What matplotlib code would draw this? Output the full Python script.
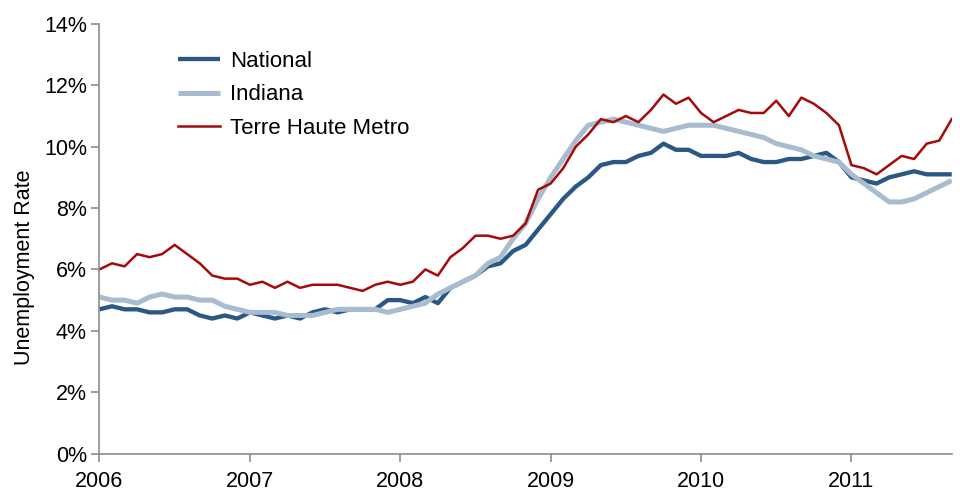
import matplotlib
matplotlib.use('Agg')
import numpy as np
import matplotlib.pyplot as plt
from matplotlib.ticker import FuncFormatter

plt.rcParams['font.family'] = ['Liberation Sans', 'DejaVu Sans']

# monthly rates, Jan 2006 .. Sep 2011
national = [4.7, 4.8, 4.7, 4.7, 4.6, 4.6, 4.7, 4.7, 4.5, 4.4, 4.5, 4.4,
            4.6, 4.5, 4.4, 4.5, 4.4, 4.6, 4.7, 4.6, 4.7, 4.7, 4.7, 5.0,
            5.0, 4.9, 5.1, 4.9, 5.4, 5.6, 5.8, 6.1, 6.2, 6.6, 6.8, 7.3,
            7.8, 8.3, 8.7, 9.0, 9.4, 9.5, 9.5, 9.7, 9.8, 10.1, 9.9, 9.9,
            9.7, 9.7, 9.7, 9.8, 9.6, 9.5, 9.5, 9.6, 9.6, 9.7, 9.8, 9.5,
            9.0, 8.9, 8.8, 9.0, 9.1, 9.2, 9.1, 9.1, 9.1]
indiana = [5.1, 5.0, 5.0, 4.9, 5.1, 5.2, 5.1, 5.1, 5.0, 5.0, 4.8, 4.7,
           4.6, 4.6, 4.6, 4.5, 4.5, 4.5, 4.6, 4.7, 4.7, 4.7, 4.7, 4.6,
           4.7, 4.8, 4.9, 5.2, 5.4, 5.6, 5.8, 6.2, 6.4, 7.0, 7.5, 8.3,
           9.0, 9.6, 10.2, 10.7, 10.8, 10.9, 10.8, 10.7, 10.6, 10.5, 10.6, 10.7,
           10.7, 10.7, 10.6, 10.5, 10.4, 10.3, 10.1, 10.0, 9.9, 9.7, 9.6, 9.5,
           9.1, 8.8, 8.5, 8.2, 8.2, 8.3, 8.5, 8.7, 8.9]
terre_haute = [6.0, 6.2, 6.1, 6.5, 6.4, 6.5, 6.8, 6.5, 6.2, 5.8, 5.7, 5.7,
               5.5, 5.6, 5.4, 5.6, 5.4, 5.5, 5.5, 5.5, 5.4, 5.3, 5.5, 5.6,
               5.5, 5.6, 6.0, 5.8, 6.4, 6.7, 7.1, 7.1, 7.0, 7.1, 7.5, 8.6,
               8.8, 9.3, 10.0, 10.4, 10.9, 10.8, 11.0, 10.8, 11.2, 11.7, 11.4, 11.6,
               11.1, 10.8, 11.0, 11.2, 11.1, 11.1, 11.5, 11.0, 11.6, 11.4, 11.1, 10.7,
               9.4, 9.3, 9.1, 9.4, 9.7, 9.6, 10.1, 10.2, 10.9]
years = ['2006', '2007', '2008', '2009', '2010', '2011']

months = np.arange(len(national))

fig = plt.figure(figsize=(9.6, 4.93), dpi=100)
ax = fig.add_axes([0.1036, 0.0801, 0.8878, 0.8712])

ax.plot(months, national, color='#2a5783', lw=3.1, label='National', solid_capstyle='butt')
ax.plot(months, indiana, color='#a9bccf', lw=3.6, label='Indiana', solid_capstyle='butt')
ax.plot(months, terre_haute, color='#a50a0a', lw=1.8, label='Terre Haute Metro')

ax.set_xlim(0, len(national) - 1)
ax.set_ylim(0, 14)
ax.set_yticks(range(0, 15, 2))
ax.yaxis.set_major_formatter(FuncFormatter(lambda v, p: '%d%%' % v))
ax.set_xticks(np.arange(len(years)) * 12)
ax.set_xticklabels(years)

for s in ['top', 'right']:
    ax.spines[s].set_visible(False)
for s in ['left', 'bottom']:
    ax.spines[s].set_color('#8c8c8c')
    ax.spines[s].set_linewidth(1.2)

ax.tick_params(axis='both', colors='#8c8c8c', labelcolor='black', labelsize=15.5,
               length=6, width=1.2)
ax.tick_params(axis='x', pad=6.5)
ax.tick_params(axis='y', pad=3)

ax.set_ylabel('Unemployment Rate', fontsize=15.5)
ax.yaxis.set_label_coords(-0.076, 0.434)

ax.legend(loc='upper left', bbox_to_anchor=(0.092, 0.938), frameon=False,
          fontsize=16, handlelength=1.9, handletextpad=0.45, labelspacing=0.57,
          borderpad=0, borderaxespad=0)

fig.savefig('out.png', dpi=100)
